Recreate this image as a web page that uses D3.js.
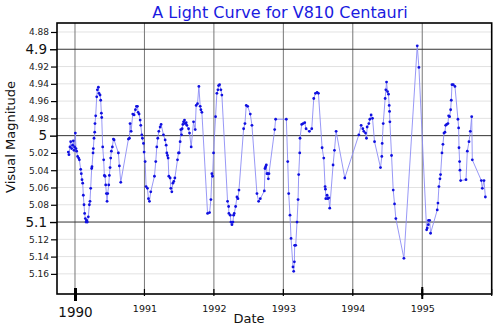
<!DOCTYPE html>
<html><head><meta charset="utf-8">
<script src="https://cdn.jsdelivr.net/npm/d3@7"></script>
<style>html,body{margin:0;padding:0;background:#fff;} svg{display:block;font-family:"DejaVu Sans",sans-serif;}</style>
</head><body><svg id="c" width="500" height="325"></svg>
<script>
const titleText = "A Light Curve for V810 Centauri";
const xTitle = "Date";
const yTitle = "Visual Magnitude";
const minorYTicks = [4.88, 4.92, 4.94, 4.96, 4.98, 5.02, 5.04, 5.06, 5.08, 5.12, 5.14, 5.16];
const majorYTicks = [4.9, 5, 5.1];
const minorYears = [1991, 1992, 1993, 1994, 1995];
const majorYears = [1990];
const endYear = [1996];
const dates = [
1989.904,1989.913,1989.928,1989.938,1989.952,1989.966,1989.976,1989.986,1989.995,1990.005,
1990.014,1990.024,1990.038,1990.053,1990.063,1990.082,1990.091,1990.101,1990.111,1990.120,
1990.130,1990.139,1990.149,1990.159,1990.168,1990.178,1990.192,1990.207,1990.216,1990.226,
1990.240,1990.245,1990.260,1990.264,1990.274,1990.284,1990.288,1990.298,1990.313,1990.322,
1990.337,1990.346,1990.361,1990.370,1990.380,1990.385,1990.399,1990.413,1990.423,1990.433,
1990.442,1990.452,1990.462,1990.471,1990.486,1990.495,1990.505,1990.514,1990.524,1990.538,
1990.553,1990.563,1990.625,1990.639,1990.659,1990.769,1990.784,1990.793,1990.808,1990.832,
1990.851,1990.870,1990.885,1990.899,1990.909,1990.923,1990.938,1990.947,1990.962,1990.971,
1990.986,1990.995,1991.010,1991.024,1991.043,1991.058,1991.072,1991.091,1991.144,1991.163,
1991.178,1991.192,1991.207,1991.226,1991.240,1991.274,1991.298,1991.313,1991.322,1991.332,
1991.341,1991.351,1991.370,1991.380,1991.394,1991.409,1991.423,1991.438,1991.476,1991.490,
1991.500,1991.514,1991.524,1991.534,1991.543,1991.553,1991.563,1991.577,1991.587,1991.601,
1991.611,1991.635,1991.649,1991.673,1991.707,1991.731,1991.745,1991.764,1991.784,1991.803,
1991.813,1991.827,1991.909,1991.938,1991.957,1991.971,1991.981,1991.995,1992.024,1992.043,
1992.058,1992.067,1992.082,1992.101,1992.115,1992.197,1992.212,1992.216,1992.236,1992.245,
1992.260,1992.274,1992.284,1992.293,1992.313,1992.332,1992.346,1992.361,1992.428,1992.447,
1992.466,1992.486,1992.524,1992.548,1992.620,1992.644,1992.668,1992.726,1992.736,1992.745,
1992.755,1992.764,1992.774,1992.784,1992.793,1992.875,1992.889,1993.043,1993.063,1993.077,
1993.096,1993.111,1993.139,1993.149,1993.159,1993.163,1993.178,1993.197,1993.212,1993.221,
1993.236,1993.240,1993.264,1993.284,1993.308,1993.327,1993.375,1993.409,1993.438,1993.462,
1993.486,1993.505,1993.558,1993.582,1993.601,1993.606,1993.611,1993.630,1993.639,1993.654,
1993.668,1993.716,1993.736,1993.760,1993.885,1994.087,1994.120,1994.144,1994.159,1994.183,
1994.197,1994.207,1994.231,1994.245,1994.264,1994.284,1994.313,1994.399,1994.418,1994.423,
1994.438,1994.466,1994.476,1994.486,1994.500,1994.514,1994.524,1994.529,1994.534,1994.558,
1994.582,1994.601,1994.620,1994.736,1994.928,1994.952,1995.063,1995.072,1995.087,1995.091,
1995.106,1995.120,1995.216,1995.226,1995.240,1995.255,1995.264,1995.284,1995.298,1995.313,
1995.327,1995.337,1995.351,1995.370,1995.380,1995.394,1995.409,1995.418,1995.428,1995.447,
1995.471,1995.514,1995.524,1995.529,1995.538,1995.543,1995.553,1995.630,1995.649,1995.673,
1995.692,1995.712,1995.721,1995.851,1995.865,1995.889,1995.909
];
const mags = [
5.019,5.022,5.013,5.007,5.015,5.011,5.006,5.017,5.013,4.997,
5.015,5.018,5.024,5.026,5.028,5.039,5.044,5.051,5.055,5.069,
5.080,5.090,5.096,5.100,5.098,5.100,5.094,5.080,5.076,5.061,
5.038,5.036,5.020,5.015,5.003,4.996,4.986,4.977,4.955,4.947,
4.944,4.951,4.953,4.959,4.974,4.979,5.013,5.028,5.046,5.047,
5.057,5.067,5.076,5.067,5.057,5.046,5.037,5.026,5.018,5.013,
5.004,5.005,5.020,5.035,5.054,5.004,5.003,4.986,4.995,4.975,
4.976,4.970,4.966,4.966,4.973,4.975,4.982,4.988,4.999,5.003,
5.009,5.019,5.030,5.059,5.061,5.073,5.076,5.065,5.047,5.030,
5.013,5.003,4.995,4.990,4.987,4.999,5.005,5.011,5.020,5.023,
5.026,5.047,5.049,5.061,5.065,5.055,5.053,5.049,5.028,5.020,
5.020,5.007,4.993,4.999,4.992,4.987,4.984,4.982,4.986,4.985,
4.988,4.992,4.997,5.013,4.984,4.993,4.965,4.963,4.943,4.966,
4.970,4.973,5.090,5.089,5.074,5.044,5.047,5.020,4.978,4.951,
4.947,4.942,4.941,4.947,4.953,5.076,5.082,5.090,5.092,5.100,
5.103,5.100,5.092,5.090,5.082,5.071,5.073,5.063,4.992,4.986,
4.965,4.966,4.975,4.988,5.067,5.076,5.073,5.064,5.038,5.036,
5.034,5.044,5.044,5.050,5.044,4.993,4.981,4.981,5.030,5.067,
5.092,5.119,5.152,5.157,5.146,5.127,5.127,5.100,5.074,5.045,
5.020,5.003,4.987,4.986,4.985,4.992,4.995,4.992,4.957,4.951,
4.950,4.951,5.014,5.026,5.059,5.062,5.073,5.069,5.073,5.072,
5.084,5.034,5.017,4.995,5.049,4.999,4.988,4.992,4.995,4.997,
5.003,4.990,4.986,4.981,4.976,4.980,5.007,5.037,5.024,5.009,
4.986,4.957,4.947,4.938,4.949,4.952,4.965,4.972,4.984,5.023,
5.063,5.079,5.096,5.142,4.896,4.921,5.109,5.107,5.103,5.098,
5.098,5.113,5.086,5.078,5.059,5.050,5.045,5.020,5.010,4.997,
4.996,4.988,4.987,4.986,4.977,4.978,4.970,4.959,4.941,4.941,
4.943,4.981,4.991,5.014,5.030,5.040,5.052,5.051,5.018,5.007,
4.995,4.978,5.028,5.052,5.061,5.052,5.071
];

const svg = d3.select("#c");
const L = 57, R = 491.7, T = 23, B = 294;
const x = d3.scaleLinear().domain([1989.741, 1996.0]).range([L, R]);
const y = d3.scaleLinear().domain([4.8696, 5.1833]).range([T, B]);

// minor horizontal grid
svg.append("g").selectAll("line").data(minorYTicks).join("line")
  .attr("x1", L).attr("x2", R).attr("y1", d => y(d)).attr("y2", d => y(d))
  .attr("stroke", "#e2e2e2").attr("stroke-width", 1);
// vertical grid
svg.append("g").selectAll("line").data(majorYears.concat(minorYears)).join("line")
  .attr("x1", d => x(d)).attr("x2", d => x(d)).attr("y1", T).attr("y2", B)
  .attr("stroke", "#777").attr("stroke-width", 1);
// major horizontal grid
svg.append("g").selectAll("line").data(majorYTicks).join("line")
  .attr("x1", L).attr("x2", R).attr("y1", d => y(d)).attr("y2", d => y(d))
  .attr("stroke", "#333").attr("stroke-width", 1);

// data
const pts = dates.map((d, i) => ({t: d, m: mags[i]}));
svg.append("path").datum(pts)
  .attr("d", d3.line().x(d => x(d.t)).y(d => y(d.m)))
  .attr("fill", "none").attr("stroke", "#8c8cf5").attr("stroke-width", 0.9);
svg.append("g").selectAll("circle").data(pts).join("circle")
  .attr("cx", d => x(d.t)).attr("cy", d => y(d.m)).attr("r", 1.4)
  .attr("fill", "#1010e0");

// frame
svg.append("rect").attr("x", L).attr("y", T).attr("width", R - L).attr("height", B - T)
  .attr("fill", "none").attr("stroke", "#000").attr("stroke-width", 1.6);

// y axes
const yMinor = svg.append("g").attr("transform", `translate(${L},0)`)
  .call(d3.axisLeft(y).tickValues(minorYTicks).tickSize(6).tickPadding(2).tickFormat(d3.format("")));
yMinor.select(".domain").remove();
yMinor.selectAll("text").attr("font-size", 9).attr("fill", "#222").attr("font-family", "DejaVu Sans");
yMinor.selectAll("line").attr("stroke-width", 1.2);
const yMajor = svg.append("g").attr("transform", `translate(${L},0)`)
  .call(d3.axisLeft(y).tickValues(majorYTicks).tickSize(7).tickPadding(3).tickFormat(d3.format("")));
yMajor.select(".domain").remove();
yMajor.selectAll("text").attr("font-size", 13.5).attr("fill", "#111").attr("font-family", "DejaVu Sans");
yMajor.selectAll("line").attr("stroke-width", 1.4);

// x axes
const xMinor = svg.append("g").attr("transform", `translate(0,${B})`)
  .call(d3.axisBottom(x).tickValues(minorYears).tickSize(0).tickPadding(11).tickFormat(d3.format("d")));
xMinor.select(".domain").remove();
xMinor.selectAll("text").attr("font-size", 9.5).attr("fill", "#111").attr("font-family", "DejaVu Sans");
svg.append("g").selectAll("line").data(minorYears.concat(endYear)).join("line")
  .attr("x1", d => x(d)).attr("x2", d => x(d)).attr("y1", B - 5).attr("y2", B + 2)
  .attr("stroke", "#000").attr("stroke-width", d => d === 1995 ? 2 : 1.2);
svg.append("line").attr("x1", x(1995)).attr("x2", x(1995)).attr("y1", B - 7).attr("y2", B + 5)
  .attr("stroke", "#000").attr("stroke-width", 2);
const xMajor = svg.append("g").attr("transform", `translate(0,${B})`)
  .call(d3.axisBottom(x).tickValues(majorYears).tickSize(7).tickPadding(6).tickFormat(d3.format("d")));
xMajor.select(".domain").remove();
xMajor.selectAll("text").attr("font-size", 13.5).attr("fill", "#111").attr("font-family", "DejaVu Sans");
xMajor.selectAll("line").attr("stroke-width", 3).attr("y1", -6);

// titles
svg.append("text").attr("x", 280).attr("y", 17.5).attr("text-anchor", "middle")
  .attr("font-size", 16).attr("fill", "#1a1ae0").text(titleText);
svg.append("text").attr("x", 249).attr("y", 323).attr("text-anchor", "middle")
  .attr("font-size", 13).attr("fill", "#111").text(xTitle);
svg.append("text").attr("transform", "translate(15,137) rotate(-90)").attr("text-anchor", "middle")
  .attr("font-size", 13).attr("fill", "#111").text(yTitle);
</script></body></html>
